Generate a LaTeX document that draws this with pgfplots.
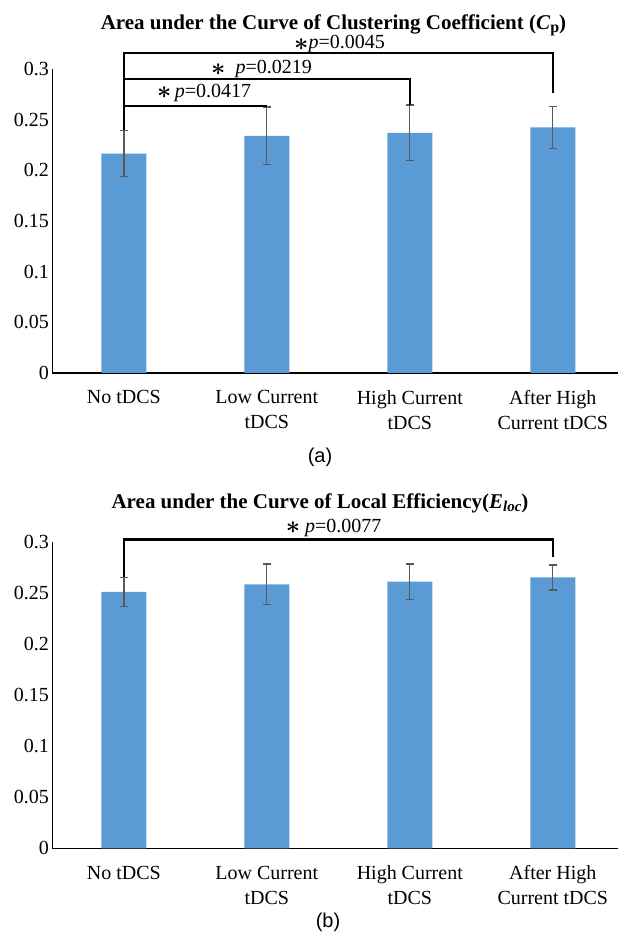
\documentclass[border=0pt]{standalone}
\usepackage{pgfplots}
\pgfplotsset{compat=1.18}
\usepackage{fontspec}
\setmainfont{Liberation Serif}
\setsansfont{Liberation Sans}
\definecolor{barblue}{HTML}{5B9BD5}
\definecolor{errgray}{HTML}{595959}

\newcommand{\bast}{\raisebox{-0.15ex}{\fontsize{26}{26}\selectfont\boldmath$\ast$}}

\pgfplotsset{
  mybars/.style={
    scale only axis,
    width=565.7pt,
    xmin=-0.5, xmax=3.456,
    ymin=0, ymax=0.3,
    clip=false,
    axis x line=bottom, axis y line=left,
    axis line style={-, black, line width=1.2pt},
    major tick length=0pt,
    xtick={0,1,2,3},
    xticklabels={No tDCS, Low Current\\tDCS, High Current\\tDCS, After High\\Current tDCS},
    xticklabel style={font=\fontsize{20}{25}\selectfont, align=center, yshift=-14pt},
    ytick={0,0.05,0.1,0.15,0.2,0.25,0.3},
    yticklabels={0,0.05,0.1,0.15,0.2,0.25,0.3},
    yticklabel style={font=\fontsize{20}{24}\selectfont},
    /pgf/number format/assume math mode=true,
    ybar, bar width=45pt,
  },
  errstyle/.style={
    fill=barblue, draw=none,
    error bars/.cd, y dir=both, y explicit,
    error bar style={color=errgray, line width=1.4pt},
    error mark options={rotate=90, mark size=4pt, color=errgray, line width=1.4pt},
  },
}

\begin{document}
\begin{tikzpicture}[x=1pt,y=1pt]
\useasboundingbox (0,0) rectangle (618,945);

% ---------- Panel (a) ----------
\begin{axis}[mybars, height=304pt, at={(52.3pt,572pt)}, anchor=south west]
\addplot+[errstyle] coordinates {
  (0,0.2166) +- (0,0.0229)
  (1,0.2340) +- (0,0.0285)
  (2,0.2370) +- (0,0.0275)
  (3,0.2423) +- (0,0.0205)
};
\draw[line width=2.4pt, black] (axis cs:0,0.2395) -- (axis cs:0,0.3155) -- (axis cs:3,0.3155) -- (axis cs:3,0.2766);
\draw[line width=2.4pt, black] (axis cs:0,0.2902) -- (axis cs:2,0.2902) -- (axis cs:2,0.2645);
\draw[line width=2.4pt, black] (axis cs:0,0.2635) -- (axis cs:1,0.2635);
\end{axis}

\node[anchor=base, inner sep=0pt, font=\fontsize{21}{24}\selectfont\bfseries] at (333.5,915.5)
  {Area under the Curve of Clustering Coefficient (\textit{C}\raisebox{-0.35ex}{\fontsize{16}{16}\selectfont p})};
\node[anchor=base west, font=\fontsize{20}{24}\selectfont, inner sep=0pt] at (157,847.7) {\bast\,\textit{p}=0.0417};
\node[anchor=base west, font=\fontsize{20}{24}\selectfont, inner sep=0pt] at (211,871) {\bast\ \ \textit{p}=0.0219};
\node[anchor=base west, font=\fontsize{20}{24}\selectfont, inner sep=0pt] at (294,896) {\bast\textit{p}=0.0045};
\node[font=\sffamily\fontsize{20}{24}\selectfont] at (320,488) {(a)};

% ---------- Panel (b) ----------
\begin{axis}[mybars, height=306.6pt, at={(52.3pt,96.7pt)}, anchor=south west]
\addplot+[errstyle] coordinates {
  (0,0.2508) +- (0,0.0144)
  (1,0.2583) +- (0,0.0200)
  (2,0.2609) +- (0,0.0173)
  (3,0.2650) +- (0,0.0122)
};
\draw[line width=2.4pt, black] (axis cs:0,0.2652) -- (axis cs:0,0.3023) -- (axis cs:3,0.3023) -- (axis cs:3,0.2853);
\end{axis}

\node[anchor=base, inner sep=0pt, font=\fontsize{21}{24}\selectfont\bfseries] at (320,436.7)
  {Area under the Curve of Local Efficiency(\textit{E}\raisebox{-0.35ex}{\fontsize{15}{15}\selectfont\itshape loc})};
\node[anchor=base west, font=\fontsize{20}{24}\selectfont, inner sep=0pt] at (285.7,412.7) {\bast\ \textit{p}=0.0077};
\node[font=\sffamily\fontsize{20}{24}\selectfont] at (328,23) {(b)};
\end{tikzpicture}
\end{document}
